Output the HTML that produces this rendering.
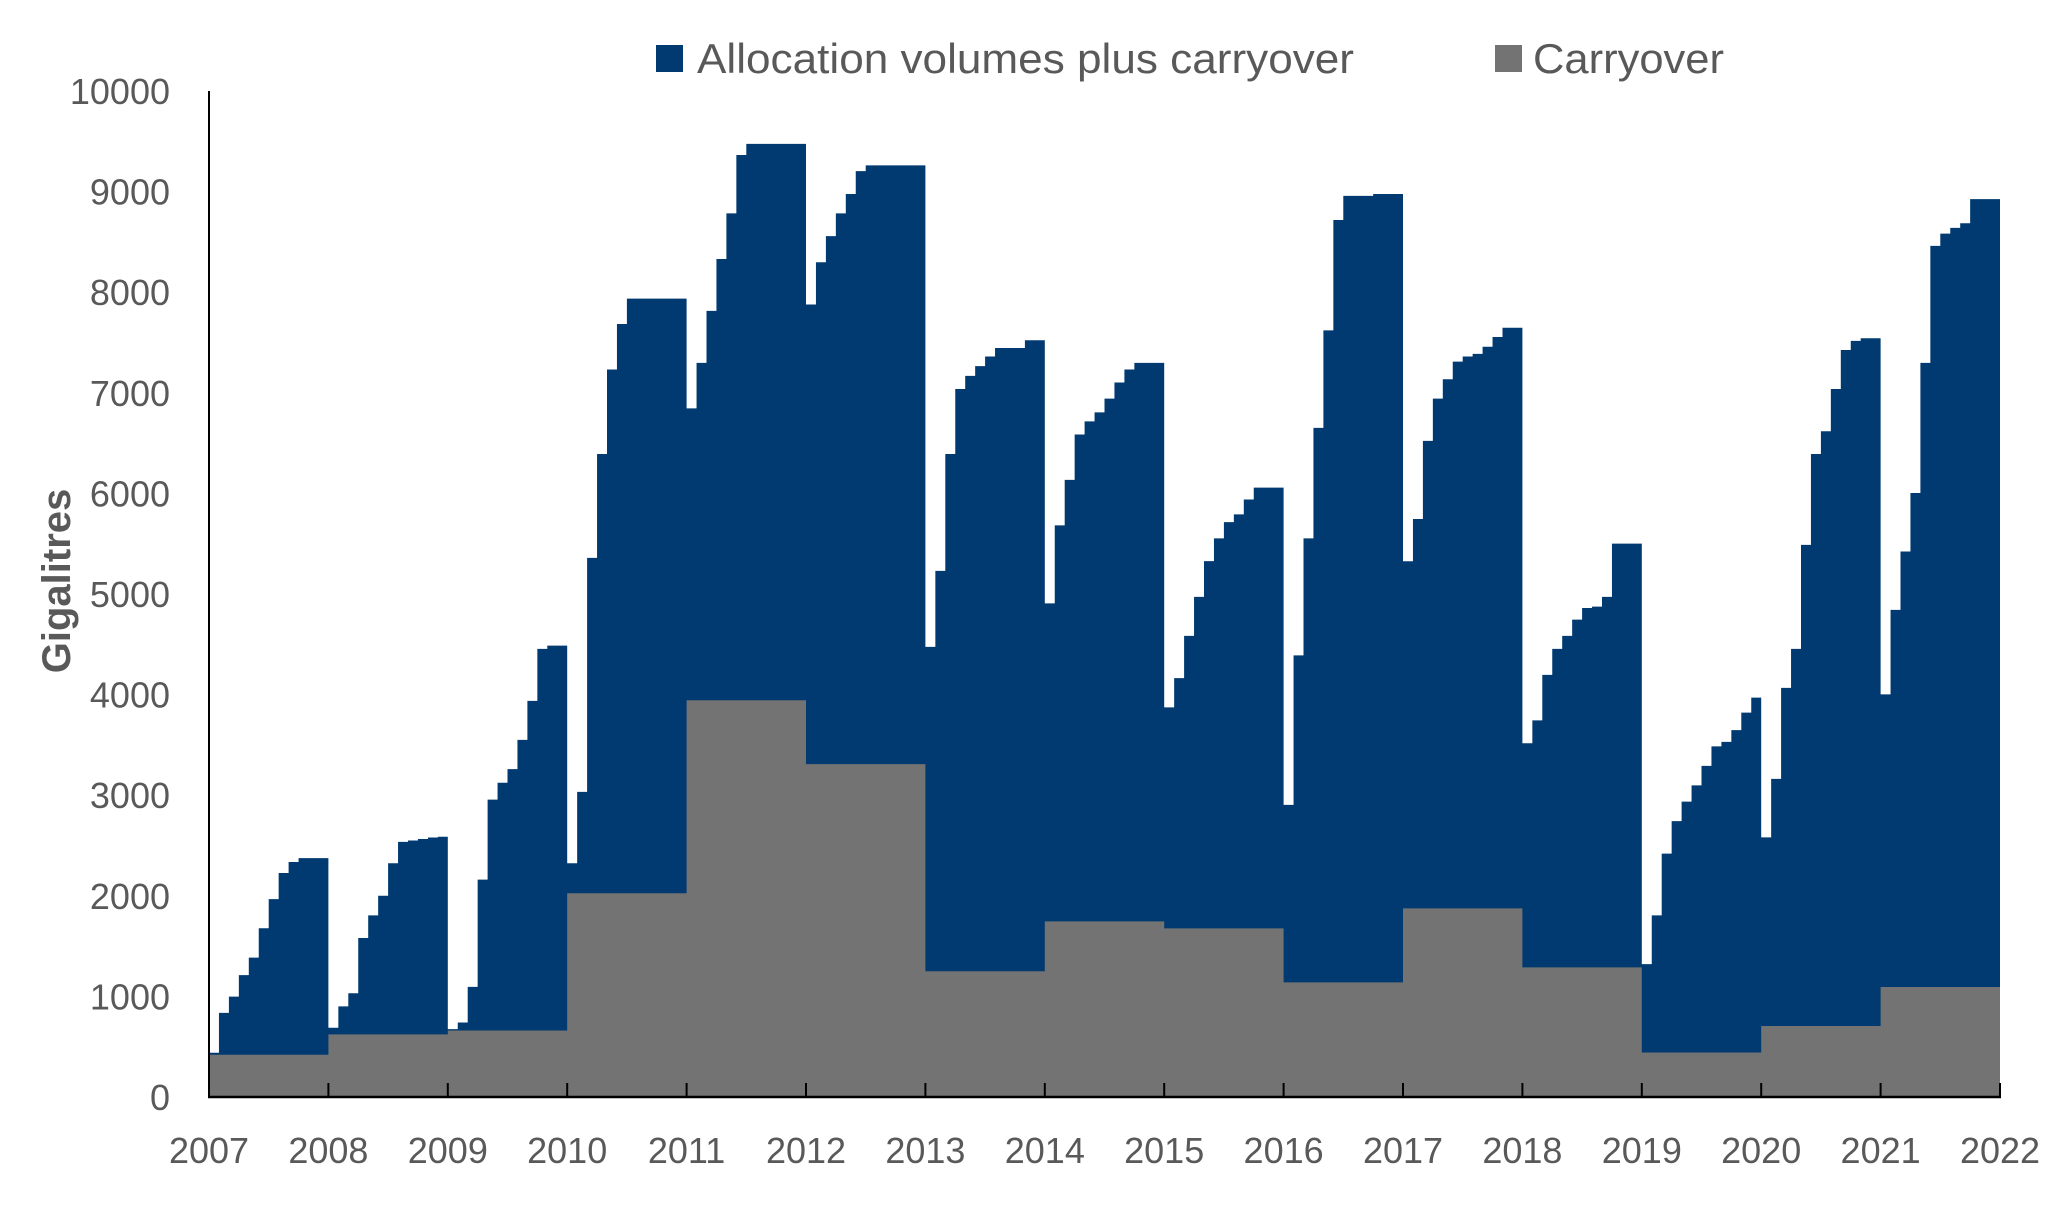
<!DOCTYPE html>
<html><head><meta charset="utf-8"><style>
html,body{margin:0;padding:0;background:#fff;}
svg{display:block;font-family:"Liberation Sans",sans-serif;}
</style></head><body>
<svg id="chart" width="2068" height="1215" viewBox="0 0 2068 1215" xmlns="http://www.w3.org/2000/svg">
<g id="marks"></g>
<g id="axes"></g>
<text x="0" y="0" transform="translate(70,581) rotate(-90)" text-anchor="middle" font-size="40" font-weight="bold" fill="#595959">Gigalitres</text>
<g>
<rect x="656" y="45" width="27" height="27" fill="#003A70"/>
<text x="697" y="73" font-size="42" fill="#595959" textLength="657" lengthAdjust="spacingAndGlyphs">Allocation volumes plus carryover</text>
<rect x="1495" y="45" width="27" height="27" fill="#727372"/>
<text x="1533" y="73" font-size="42" fill="#595959" textLength="191" lengthAdjust="spacingAndGlyphs">Carryover</text>
</g>
</svg>
<script>
const years = [2007,2008,2009,2010,2011,2012,2013,2014,2015,2016,2017,2018,2019,2020,2021];
const yearLabels = ["2007","2008","2009","2010","2011","2012","2013","2014","2015","2016","2017","2018","2019","2020","2021","2022"];
const yTicks = [0,1000,2000,3000,4000,5000,6000,7000,8000,9000,10000];
const carryover = [420,623,661,2025,3944,3309,1250,1746,1676,1140,1875,1289,442,706,1093];
const alloc2007 = [440,836,998,1211,1386,1677,1967,2226,2336,2374,2374,2374];
const alloc2008 = [688,901,1031,1580,1806,2000,2323,2536,2550,2565,2580,2587];
const alloc2009 = [675,740,1095,2161,2956,3124,3259,3550,3938,4454,4487,4487];
const alloc2010 = [2323,3033,5359,6392,7232,7684,7936,7936,7936,7936,7936,7936];
const alloc2011 = [6845,7297,7814,8330,8783,9364,9474,9474,9474,9474,9474,9474];
const alloc2012 = [7878,8298,8557,8783,8976,9203,9261,9261,9261,9261,9261,9261];
const alloc2013 = [4474,5230,6392,7038,7168,7265,7361,7445,7445,7445,7523,7523];
const alloc2014 = [4907,5682,6134,6586,6716,6806,6942,7103,7232,7297,7297,7297];
const alloc2015 = [3873,4164,4584,4971,5327,5553,5714,5792,5940,6057,6057,6057];
const alloc2016 = [2904,4390,5553,6651,7620,8718,8957,8957,8957,8976,8976,8976];
const alloc2017 = [5326,5746,6522,6942,7135,7310,7361,7387,7458,7555,7646,7646];
const alloc2018 = [3517,3744,4196,4454,4584,4745,4861,4874,4971,5501,5501,5501];
const alloc2019 = [1321,1806,2419,2742,2936,3098,3292,3485,3530,3647,3821,3970];
const alloc2020 = [2581,3162,4067,4454,5488,6392,6618,7038,7426,7516,7542,7542];
const alloc2021 = [4002,4842,5423,6004,7297,8460,8582,8640,8686,8925,8925,8925];
const allocation = [].concat(alloc2007,alloc2008,alloc2009,alloc2010,alloc2011,alloc2012,alloc2013,alloc2014,alloc2015,alloc2016,alloc2017,alloc2018,alloc2019,alloc2020,alloc2021);

const NS = "http://www.w3.org/2000/svg";
const X0 = 209, X1 = 2000, Y0 = 1097, Y1 = 91;
function xs(t){ return X0 + (t - 2007) / 15 * (X1 - X0); }
function ys(v){ return Y0 - v / 10000 * (Y0 - Y1); }

const marks = document.getElementById('marks');
const axes = document.getElementById('axes');

function stepPath(vals, perYear){
  let d = 'M' + xs(2007) + ',' + ys(0);
  for (let i = 0; i < vals.length; i++){
    const a = xs(2007 + i / perYear), b = xs(2007 + (i + 1) / perYear);
    d += ' L' + a.toFixed(2) + ',' + ys(vals[i]).toFixed(2) + ' L' + b.toFixed(2) + ',' + ys(vals[i]).toFixed(2);
  }
  d += ' L' + xs(2007 + vals.length / perYear) + ',' + ys(0) + ' Z';
  return d;
}
const pa = document.createElementNS(NS, 'path');
pa.setAttribute('d', stepPath(allocation, 12));
pa.setAttribute('fill', '#003A70');


marks.appendChild(pa);
const pc = document.createElementNS(NS, 'path');
pc.setAttribute('d', stepPath(carryover, 1));
pc.setAttribute('fill', '#727372');


marks.appendChild(pc);

// axes lines
const yl = document.createElementNS(NS, 'line');
yl.setAttribute('x1', X0); yl.setAttribute('x2', X0); yl.setAttribute('y1', Y1); yl.setAttribute('y2', Y0 + 1);
yl.setAttribute('stroke', '#000'); yl.setAttribute('stroke-width', '2');


axes.appendChild(yl);
const xl = document.createElementNS(NS, 'line');
xl.setAttribute('x1', X0 - 1); xl.setAttribute('x2', X1 + 1); xl.setAttribute('y1', Y0); xl.setAttribute('y2', Y0);
xl.setAttribute('stroke', '#000'); xl.setAttribute('stroke-width', '2.5');


axes.appendChild(xl);

yTicks.forEach(v => {
  const t = document.createElementNS(NS, 'text');
  t.setAttribute('x', 170); t.setAttribute('y', ys(v) + 13);
  t.setAttribute('text-anchor', 'end'); t.setAttribute('font-size', '36'); t.setAttribute('fill', '#595959');
  
  
  t.textContent = String(v);
  axes.appendChild(t);
});
yearLabels.forEach((lab, i) => {
  const x = xs(2007 + i);
  const tk = document.createElementNS(NS, 'line');
  tk.setAttribute('x1', x); tk.setAttribute('x2', x); tk.setAttribute('y1', Y0 - 14); tk.setAttribute('y2', Y0);
  tk.setAttribute('stroke', '#000'); tk.setAttribute('stroke-width', '2');
  
  
  axes.appendChild(tk);
  const t = document.createElementNS(NS, 'text');
  t.setAttribute('x', x); t.setAttribute('y', 1163);
  t.setAttribute('text-anchor', 'middle'); t.setAttribute('font-size', '36'); t.setAttribute('fill', '#595959');
  
  
  t.textContent = lab;
  axes.appendChild(t);
});
</script>
</body></html>
